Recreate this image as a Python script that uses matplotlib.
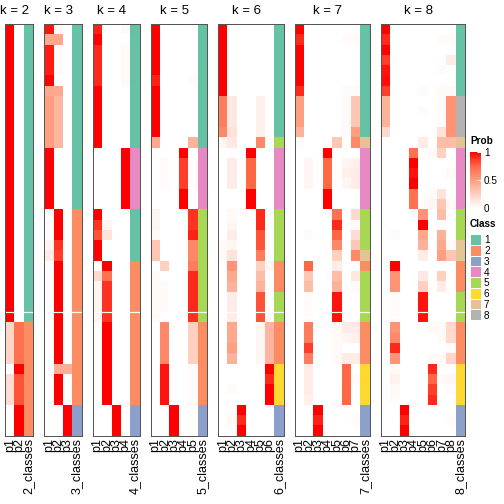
import numpy as np
import matplotlib
matplotlib.use('Agg')
import matplotlib.pyplot as plt
from matplotlib.colors import LinearSegmentedColormap, ListedColormap, Normalize
from matplotlib.cm import ScalarMappable

plt.rcParams['font.family'] = ['Liberation Sans', 'DejaVu Sans']

# membership probability of each sample (rows) for each class (columns), per k
prob_k2 = [
    [1, 0], [1, 0], [1, 0], [1, 0], [1, 0], [1, 0], [1, 0], [1, 0], [1, 0], [1, 0],
    [1, 0], [1, 0], [1, 0], [1, 0], [1, 0], [1, 0], [1, 0], [1, 0], [1, 0], [1, 0],
    [1, 0], [1, 0], [1, 0], [1, 0], [1, 0], [1, 0], [1, 0], [1, 0], [1, 0],
    [.22, .7], [.22, .7], [.22, .7], [.22, .7], [0, 1],
    [.18, .8], [.18, .8], [.18, .8], [0, 1], [0, 1], [0, 1],
]
class_k2 = [1] * 29 + [2] * 11

prob_k3 = [
    [.95, .03, 0], [.45, .45, 0], [.93, .02, 0], [.93, .02, 0], [.93, .02, 0],
    [1, 0, 0], [.45, .45, 0], [.5, .38, 0], [.5, .38, 0], [.5, .38, 0],
    [.5, .38, 0], [.5, .38, 0], [1, 0, 0], [1, 0, 0], [1, 0, 0],
    [1, 0, 0], [1, 0, 0], [1, 0, 0], [0, 1, 0], [0, 1, 0],
    [0, 1, 0], [.05, .88, 0], [.1, .85, 0], [0, 1, 0], [0, 1, 0],
    [0, 1, 0], [0, 1, 0], [0, 1, 0], [0, 1, 0], [0, 1, 0],
    [0, 1, 0], [0, 1, 0], [0, 1, 0], [0, .42, .42], [0, 1, 0],
    [0, 1, 0], [0, 1, 0], [0, 0, 1], [0, 0, 1], [0, 0, 1],
]
class_k3 = [1] * 18 + [2] * 19 + [3] * 3

prob_k4 = [
    [.92, 0, 0, .03], [1, 0, 0, 0], [.9, 0, 0, .03], [.9, 0, 0, .03], [.9, 0, 0, .03],
    [.9, 0, 0, .03], [1, 0, 0, 0], [1, 0, 0, 0], [1, 0, 0, 0], [1, 0, 0, 0],
    [1, 0, 0, 0], [1, 0, 0, 0], [0, 0, 0, 1], [0, 0, 0, 1], [0, 0, 0, 1],
    [0, 0, 0, 1], [0, 0, 0, 1], [0, 0, 0, 1], [1, 0, 0, 0], [.88, .05, 0, 0],
    [.8, .15, 0, 0], [1, 0, 0, 0], [1, 0, 0, 0], [0, 1, 0, 0], [.2, .7, 0, 0],
    [.05, .88, 0, 0], [.05, .88, 0, 0], [.05, .88, 0, 0], [.05, .88, 0, 0], [0, 1, 0, 0],
    [0, 1, 0, 0], [0, 1, 0, 0], [0, 1, 0, 0], [0, 1, 0, 0], [0, 1, 0, 0],
    [0, 1, 0, 0], [0, 1, 0, 0], [0, 0, 1, 0], [0, 0, 1, 0], [0, 0, 1, 0],
]
class_k4 = [1] * 12 + [4] * 6 + [1] * 5 + [2] * 14 + [3] * 3

prob_k5 = [
    [1, 0, 0, 0, 0], [1, 0, 0, 0, 0], [1, 0, 0, 0, 0], [1, 0, 0, 0, 0], [1, 0, 0, 0, 0],
    [.92, 0, 0, 0, .02], [1, 0, 0, 0, 0], [1, 0, 0, 0, 0], [1, 0, 0, 0, 0], [1, 0, 0, 0, 0],
    [1, 0, 0, 0, 0], [.45, 0, 0, 0, .4], [0, 0, 0, 1, 0], [0, .02, 0, .85, .02], [0, .02, 0, .85, .02],
    [0, .02, 0, .85, .02], [0, 0, 0, 1, 0], [0, 0, 0, 1, 0], [.05, 0, 0, 0, .88], [.05, 0, 0, 0, .88],
    [.03, 0, 0, 0, .92], [.3, 0, 0, 0, .6], [.3, 0, 0, 0, .6], [0, .25, 0, 0, .65], [.03, 0, 0, 0, .9],
    [.02, .03, 0, 0, .9], [.02, .03, 0, 0, .9], [.02, .03, 0, 0, .9], [.03, 0, 0, 0, .88], [0, .6, 0, 0, .25],
    [0, .6, 0, 0, .25], [0, .6, 0, 0, .25], [0, .6, 0, 0, .25], [0, .95, 0, 0, .02], [0, .95, 0, 0, .02],
    [0, .95, 0, 0, .02], [0, .95, 0, 0, .02], [0, 0, 1, 0, 0], [0, 0, 1, 0, 0], [0, 0, 1, 0, 0],
]
class_k5 = [1] * 12 + [4] * 6 + [5] * 11 + [2] * 8 + [3] * 3

prob_k6 = [
    [1, 0, 0, 0, 0, 0], [1, 0, 0, 0, 0, 0], [1, 0, 0, 0, 0, 0], [1, 0, 0, 0, 0, 0],
    [1, 0, 0, 0, 0, 0], [1, 0, 0, 0, 0, 0], [1, 0, 0, 0, 0, 0], [.65, .12, 0, 0, .08, 0],
    [.65, .12, 0, 0, .08, 0], [.65, .12, 0, 0, .08, 0], [.6, .15, 0, 0, .08, 0], [.05, .12, 0, 0, .6, 0],
    [0, 0, 0, 1, 0, 0], [0, .1, 0, .75, 0, 0], [0, .1, 0, .75, 0, 0], [0, .1, 0, .75, 0, 0],
    [0, 0, 0, 1, 0, 0], [0, 0, 0, 1, 0, 0], [0, .03, 0, 0, .9, 0], [0, .05, 0, 0, .9, 0],
    [0, .1, 0, 0, .8, 0], [.03, .05, 0, 0, .8, 0], [.03, .15, 0, 0, .65, 0], [0, .55, 0, 0, .25, .05],
    [0, .45, 0, 0, .35, 0], [0, .4, 0, 0, .4, 0], [0, .1, 0, 0, .8, 0], [0, .1, 0, 0, .8, 0],
    [0, .1, 0, 0, .8, 0], [0, .45, 0, 0, .04, .38], [0, .45, 0, 0, .04, .38], [0, .5, 0, 0, .04, .38],
    [0, .4, 0, 0, .04, .38], [0, 0, 0, 0, 0, 1], [0, 0, 0, 0, 0, .9], [0, .03, 0, 0, 0, 1],
    [0, 0, 0, 0, 0, 1], [0, 0, 1, 0, 0, 0], [0, .03, .9, 0, 0, 0], [0, 0, 1, 0, 0, 0],
]
class_k6 = [1] * 11 + [5] + [4] * 6 + [5] * 5 + [2] * 3 + [5] * 3 + [2] * 4 + [6] * 4 + [3] * 3

prob_k7 = [
    [1, 0, 0, 0, 0, 0, 0], [.9, 0, 0, 0, 0, .02, .02], [1, 0, 0, 0, 0, 0, 0], [1, 0, 0, 0, 0, 0, 0],
    [1, 0, 0, 0, 0, 0, 0], [1, 0, 0, 0, 0, 0, 0], [.9, 0, 0, 0, 0, .02, .02], [.5, 0, 0, 0, 0, .03, .3],
    [.5, 0, 0, 0, 0, .03, .3], [.5, 0, 0, 0, 0, .03, .3], [.4, 0, 0, 0, 0, .02, .5], [.02, 0, 0, 0, .3, 0, .6],
    [0, 0, 0, 1, 0, 0, 0], [0, .05, 0, .75, 0, .05, .08], [0, .05, 0, .75, 0, .08, .1], [0, .05, 0, .75, 0, .05, .1],
    [0, 0, 0, 1, 0, 0, 0], [0, 0, 0, 1, 0, 0, 0], [0, 0, 0, 0, .7, 0, .2], [0, 0, 0, 0, .9, 0, .03],
    [0, .02, 0, 0, .75, 0, .18], [0, 0, 0, 0, .6, 0, .3], [0, 0, 0, 0, .25, 0, .6], [0, .75, 0, 0, .1, 0, 0],
    [0, .3, 0, 0, .35, 0, .12], [0, .35, 0, 0, .4, 0, .03], [0, .02, 0, 0, .95, 0, 0], [0, .02, 0, 0, .95, 0, 0],
    [0, .02, 0, 0, .95, 0, 0], [0, .65, 0, 0, .03, .1, .1], [0, .65, 0, 0, .03, .05, .08], [0, .85, 0, 0, .03, 0, 0],
    [0, .65, 0, 0, .03, .1, .1], [0, .1, 0, 0, 0, .75, 0], [0, .1, 0, 0, 0, .75, .03], [0, .1, 0, 0, 0, .75, 0],
    [0, .08, 0, 0, 0, .75, 0], [0, 0, 1, 0, 0, 0, 0], [0, 0, .92, 0, 0, 0, .02], [0, 0, 1, 0, 0, 0, 0],
]
class_k7 = [1] * 11 + [7] + [4] * 6 + [5] * 4 + [7] + [2] + [5] * 5 + [2] * 4 + [6] * 4 + [3] * 3

prob_k8 = [
    [1, 0, 0, 0, 0, 0, 0, 0], [.9, 0, 0, 0, 0, 0, .02, .02], [1, 0, 0, 0, 0, 0, 0, 0],
    [.85, 0, 0, 0, 0, 0, 0, .1], [.95, 0, 0, 0, 0, 0, .02, 0], [.97, 0, 0, 0, 0, 0, 0, 0],
    [.85, 0, 0, 0, .02, 0, .03, .03], [.4, 0, 0, 0, 0, 0, .02, .55], [.4, 0, 0, 0, .02, 0, .02, .55],
    [.4, 0, 0, 0, 0, 0, .02, .55], [.2, 0, 0, 0, 0, 0, .15, .55], [0, 0, 0, 0, .1, 0, .35, .35],
    [0, 0, 0, .7, 0, .03, .25, 0], [0, 0, 0, 1, 0, 0, 0, 0], [0, 0, 0, .95, 0, 0, 0, .03],
    [0, 0, 0, 1, 0, 0, 0, 0], [0, 0, 0, .7, 0, .02, .15, 0], [0, 0, 0, .7, .02, .04, .3, .03],
    [0, 0, 0, 0, .55, 0, .35, 0], [0, 0, 0, 0, 1, 0, 0, 0], [0, .02, 0, 0, .45, 0, .4, 0],
    [0, 0, 0, 0, .4, 0, .45, .02], [0, 0, 0, 0, .1, 0, .5, .3], [0, 1, 0, 0, 0, 0, 0, 0],
    [0, .55, 0, 0, .12, 0, .25, 0], [0, .55, 0, 0, .25, 0, .1, 0], [0, .02, 0, 0, .95, 0, 0, 0],
    [0, .02, 0, 0, .95, 0, 0, 0], [0, .02, 0, 0, .95, 0, 0, 0], [0, .55, 0, 0, 0, .03, .03, .2],
    [0, .6, 0, 0, 0, 0, .03, .2], [0, .9, 0, 0, 0, 0, 0, .02], [0, .55, 0, 0, 0, .03, .03, .22],
    [0, .03, 0, 0, 0, .9, 0, 0], [0, .07, 0, 0, 0, .75, .03, .05], [0, .03, 0, 0, 0, .85, 0, .02],
    [0, .02, 0, 0, 0, .9, 0, 0], [0, 0, 1, 0, 0, 0, 0, 0], [0, 0, .92, 0, 0, 0, 0, .02],
    [0, 0, 1, 0, 0, 0, 0, 0],
]
class_k8 = [1] * 7 + [8] * 4 + [7] + [4] * 6 + [5] * 3 + [7] * 2 + [2] * 3 + [5] * 3 + [2] * 4 + [6] * 4 + [3] * 3

ks = [2, 3, 4, 5, 6, 7, 8]
probs = [prob_k2, prob_k3, prob_k4, prob_k5, prob_k6, prob_k7, prob_k8]
classes = [class_k2, class_k3, class_k4, class_k5, class_k6, class_k7, class_k8]

class_colors = ['#66C2A5', '#FC8D62', '#8DA0CB', '#E78AC3',
                '#A6D854', '#FFD92F', '#E5C494', '#B3B3B3']
class_cmap = ListedColormap(class_colors)
# white -> red, interpolated in LAB like colorRamp2
prob_cmap = LinearSegmentedColormap.from_list(
    'prob', ['#FFFFFF', '#FFCFBF', '#FF9E81', '#FF6846', '#FF0000'])

W = H = 504
fig = plt.figure(figsize=(7, 7), dpi=72)

top_px, bot_px = 24, 435.7
cw, gap = 9.37, 11.1
x_px = 5

for k, prob, cls in zip(ks, probs, classes):
    prob = np.array(prob)
    n = prob.shape[0]
    width = (k + 1) * cw
    ax = fig.add_axes([x_px / W, (H - bot_px) / H, width / W, (bot_px - top_px) / H])
    x_px += width + gap

    ax.pcolormesh(np.arange(k + 1), np.arange(n + 1), prob, cmap=prob_cmap,
                  vmin=0, vmax=1, antialiased=False, linewidth=0)
    ax.pcolormesh([k, k + 1], np.arange(n + 1), np.array(cls)[:, None], cmap=class_cmap,
                  vmin=0.5, vmax=8.5, antialiased=False, linewidth=0)
    ax.axhline(28, color='white', lw=1.2)
    ax.set_xlim(0, k + 1)
    ax.set_ylim(n, 0)

    labels = ['p%d' % (j + 1) for j in range(k)] + ['%d_classes' % k]
    ax.set_xticks(np.arange(k + 1) + 0.5)
    ax.set_xticklabels(labels, rotation=90, fontsize=12.5)
    ax.tick_params(axis='x', length=0, pad=2.5)
    ax.set_yticks([])
    for sp in ax.spines.values():
        sp.set_color('#555555')
        sp.set_linewidth(1)

    ax.annotate('k = %d' % k, xy=(k / 2, 1), xycoords=('data', 'axes fraction'),
                xytext=(0, 13), textcoords='offset points',
                ha='center', va='center', fontsize=13.2)

# Prob legend
cax = fig.add_axes([470 / W, (H - 208.3) / H, 11 / W, 56.6 / H])
cb = fig.colorbar(ScalarMappable(Normalize(0, 1), prob_cmap), cax=cax)
cb.outline.set_visible(False)
cb.set_ticks([0, 0.5, 1])
cb.set_ticklabels(['0', '0.5', '1'])
cax.tick_params(length=0, pad=3, labelsize=10)
cax.hlines([0.5, 1], 0.65, 1, color='white', lw=1)
fig.text(470 / W, 1 - 141 / H, 'Prob', fontsize=10, fontweight='bold', va='center')

# Class legend
lax = fig.add_axes([470 / W, (H - 320) / H, 11 / W, 86 / H])
class_ids = [1, 2, 3, 4, 5, 6, 7, 8]
lax.pcolormesh([0, 1], np.arange(len(class_ids) + 1), np.array(class_ids)[:, None],
               cmap=class_cmap, vmin=0.5, vmax=8.5, edgecolors='white', linewidth=0.8)
lax.set_ylim(len(class_ids), 0)
lax.set_xlim(0, 1)
lax.set_xticks([])
lax.yaxis.tick_right()
lax.set_yticks(np.arange(len(class_ids)) + 0.5)
lax.set_yticklabels([str(c) for c in class_ids], fontsize=10)
lax.tick_params(axis='y', length=0, pad=3)
for sp in lax.spines.values():
    sp.set_visible(False)
fig.text(470 / W, 1 - 224 / H, 'Class', fontsize=10, fontweight='bold', va='center')

fig.savefig('out.png', dpi=72)
